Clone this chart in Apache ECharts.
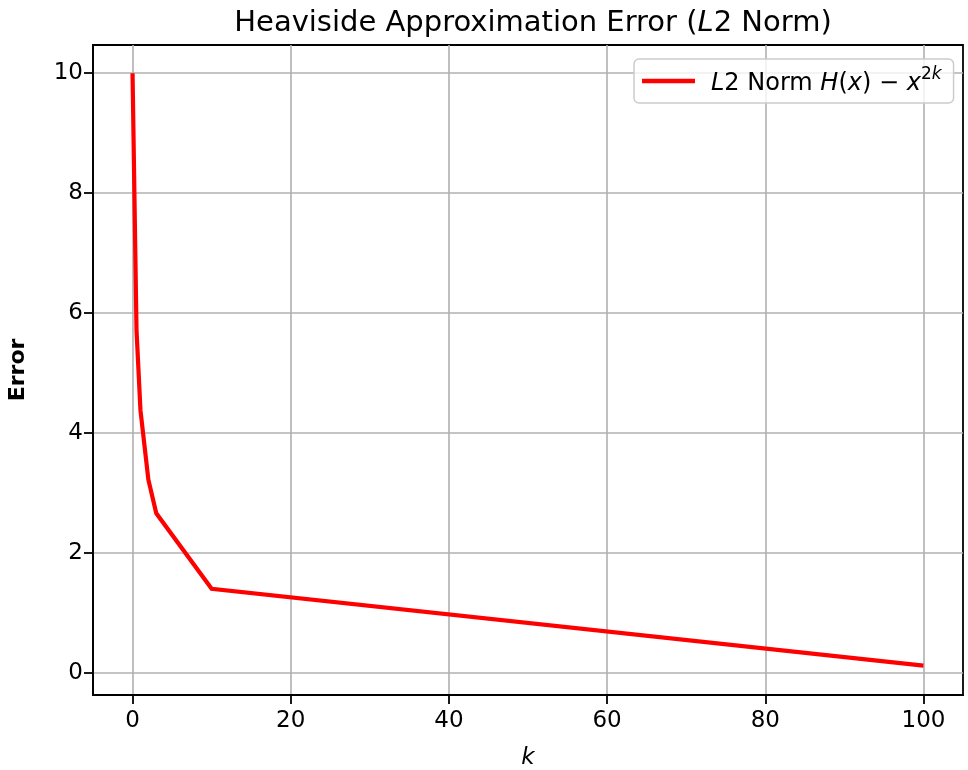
<!DOCTYPE html>
<html>
<head>
<meta charset="utf-8">
<script src="https://cdn.jsdelivr.net/npm/echarts@6/dist/echarts.min.js"></script>
<style>
  html, body { margin: 0; padding: 0; background: #ffffff; }
  #chart { width: 968px; height: 770px; }
</style>
</head>
<body>
<div id="chart"></div>
<script>
// Exponent k of the approximation x^(2k)
const kValues = [0, 0.5, 1, 2, 3, 10, 100];
// L2 norm of H(x) - x^(2k) for each k
const errorValues = [10.0, 5.72, 4.38, 3.22, 2.66, 1.40, 0.12];
// Tick positions
const xTicks = [0, 20, 40, 60, 80, 100];
const yTicks = [0, 2, 4, 6, 8, 10];

const FONT = '"DejaVu Sans", sans-serif';

const chart = echarts.init(document.getElementById('chart'), null, { renderer: 'canvas' });

chart.setOption({
  backgroundColor: '#ffffff',
  animation: false,
  textStyle: { fontFamily: FONT, color: '#000000' },
  title: {
    text: '{n|Heaviside Approximation Error (}{i|L}{n|2 Norm)}',
    left: 528,
    textAlign: 'center',
    top: 4,
    textStyle: {
      fontWeight: 'normal',
      rich: {
        n: { fontFamily: FONT, fontSize: 29, fontWeight: 'normal', color: '#000000' },
        i: { fontFamily: FONT, fontSize: 29, fontWeight: 'normal', fontStyle: 'italic', color: '#000000' }
      }
    }
  },
  legend: {
    show: true,
    left: 634,
    top: 59,
    padding: [7, 12, 7, 8],
    itemWidth: 53,
    itemHeight: 4.5,
    itemGap: 10,
    borderColor: '#cccccc',
    borderWidth: 1.5,
    borderRadius: 5,
    backgroundColor: 'rgba(255,255,255,0.8)',
    data: [{ name: 'L2 Norm', icon: 'rect', itemStyle: { color: '#ff0000' } }],
    formatter: function () {
      return '{i0|L}{n|2 Norm }{i|H}{n|(}{i|x}{n|) \u2212 }{i|x}{s|2}{si|k}';
    },
    textStyle: {
      rich: {
        i0: { fontFamily: FONT, fontSize: 24, fontStyle: 'italic', color: '#000000', lineHeight: 30, verticalAlign: 'bottom', padding: [0, 0, 0, 11] },
        n: { fontFamily: FONT, fontSize: 24, color: '#000000', lineHeight: 30, verticalAlign: 'bottom' },
        i: { fontFamily: FONT, fontSize: 24, fontStyle: 'italic', color: '#000000', lineHeight: 30, verticalAlign: 'bottom' },
        s: { fontFamily: FONT, fontSize: 17, color: '#000000', lineHeight: 16, verticalAlign: 'top' },
        si: { fontFamily: FONT, fontSize: 17, fontStyle: 'italic', color: '#000000', lineHeight: 16, verticalAlign: 'top' }
      }
    }
  },
  grid: {
    left: 93,
    right: 5,
    top: 45,
    bottom: 75,
    outerBoundsMode: 'none',
    containLabel: false,
    show: true,
    borderColor: '#000000',
    borderWidth: 1.8,
    backgroundColor: 'transparent'
  },
  xAxis: {
    type: 'value',
    min: -5,
    max: 105,
    name: 'k',
    nameLocation: 'middle',
    nameGap: 52,
    nameTextStyle: { fontFamily: FONT, fontSize: 23, fontStyle: 'italic', color: '#000000' },
    axisLine: { show: true, onZero: false, lineStyle: { color: '#000000', width: 1.8 } },
    axisTick: { show: true, inside: false, length: 9, customValues: xTicks, lineStyle: { color: '#000000', width: 1.8 } },
    axisLabel: { show: true, customValues: xTicks, margin: 15, fontFamily: FONT, fontSize: 23, color: '#000000' },
    splitLine: { show: true, lineStyle: { color: '#b0b0b0', width: 1.6 } }
  },
  yAxis: {
    type: 'value',
    min: -0.37,
    max: 10.47,
    name: 'Error',
    nameLocation: 'middle',
    nameGap: 64,
    nameTextStyle: { fontFamily: FONT, fontSize: 22, fontWeight: 'bold', color: '#000000' },
    axisLine: { show: true, onZero: false, lineStyle: { color: '#000000', width: 1.8 } },
    axisTick: { show: true, inside: false, length: 9, customValues: yTicks, lineStyle: { color: '#000000', width: 1.8 } },
    axisLabel: { show: true, customValues: yTicks, margin: 10, fontFamily: FONT, fontSize: 23, color: '#000000' },
    splitLine: { show: true, lineStyle: { color: '#b0b0b0', width: 1.6 } }
  },
  series: [{
    name: 'L2 Norm',
    type: 'line',
    data: kValues.map((k, i) => [k, errorValues[i]]),
    symbol: 'none',
    showSymbol: false,
    lineStyle: { color: '#ff0000', width: 4.2, join: 'miter' },
    itemStyle: { color: '#ff0000' },
    z: 5
  }]
});
</script>
</body>
</html>
